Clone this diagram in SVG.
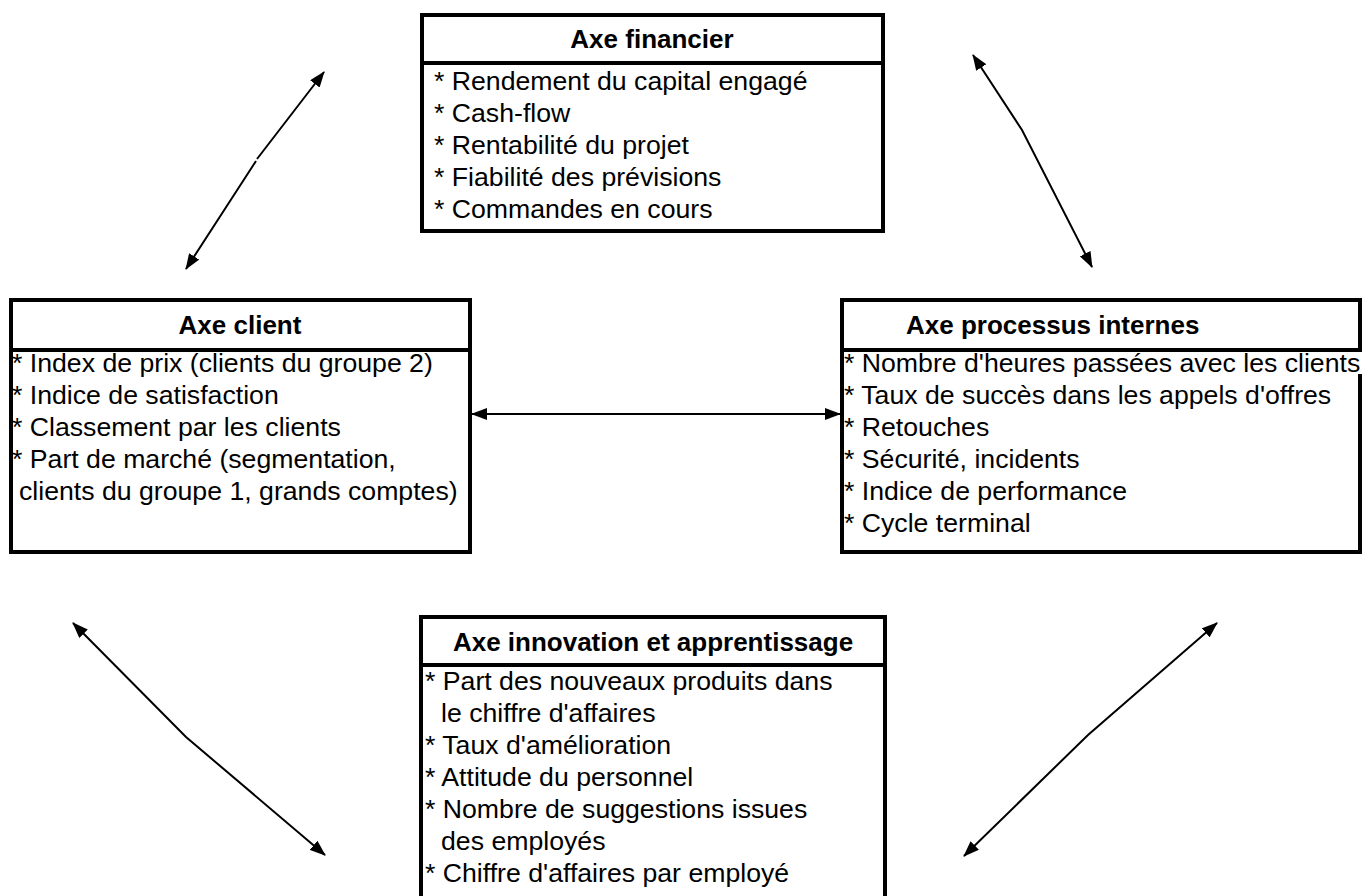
<svg xmlns="http://www.w3.org/2000/svg" width="1366" height="896" viewBox="0 0 1366 896">
<defs>
<style>
.box{fill:none;stroke:#000;stroke-width:4}
.hd{font-family:"Liberation Sans",Arial,sans-serif;font-size:26px;font-weight:bold;fill:#000}
.tx{font-family:"Liberation Sans",Arial,sans-serif;font-size:26.67px;fill:#000}
.cn{fill:none;stroke:#000;stroke-width:2;marker-start:url(#ah);marker-end:url(#ah)}
</style>
<marker id="ah" viewBox="0 0 16 12" refX="15" refY="6" markerWidth="16" markerHeight="12" markerUnits="userSpaceOnUse" orient="auto-start-reverse">
<path d="M0,0 L16,6 L0,12 Z" fill="#000"/>
</marker>
</defs>
<rect width="1366" height="896" fill="#fff"/>

<g id="financier">
<rect class="box" x="422" y="15" width="461" height="216"/>
<line class="box" x1="422" y1="63" x2="883" y2="63"/>
<text class="hd" x="652" y="48" text-anchor="middle">Axe financier</text>
<text class="tx" x="434" y="90">* Rendement du capital engagé</text>
<text class="tx" x="434" y="122">* Cash-flow</text>
<text class="tx" x="434" y="154">* Rentabilité du projet</text>
<text class="tx" x="434" y="186">* Fiabilité des prévisions</text>
<text class="tx" x="434" y="218">* Commandes en cours</text>
</g>

<g id="client">
<rect class="box" x="11" y="300" width="459" height="252"/>
<line class="box" x1="11" y1="350" x2="470" y2="350"/>
<text class="hd" x="240" y="334" text-anchor="middle">Axe client</text>
<text class="tx" x="12" y="372">* Index de prix (clients du groupe 2)</text>
<text class="tx" x="12" y="404">* Indice de satisfaction</text>
<text class="tx" x="12" y="436">* Classement par les clients</text>
<text class="tx" x="12" y="468">* Part de marché (segmentation,</text>
<text class="tx" x="19" y="500">clients du groupe 1, grands comptes)</text>
</g>

<g id="processus">
<rect class="box" x="842" y="300" width="518" height="50"/>
<path class="box" d="M842,350 V552 H1360 V374"/>
<text class="hd" x="906" y="334">Axe processus internes</text>
<text class="tx" x="844" y="372">* Nombre d'heures passées avec les clients</text>
<text class="tx" x="844" y="404">* Taux de succès dans les appels d'offres</text>
<text class="tx" x="844" y="436">* Retouches</text>
<text class="tx" x="844" y="468">* Sécurité, incidents</text>
<text class="tx" x="844" y="500">* Indice de performance</text>
<text class="tx" x="844" y="532">* Cycle terminal</text>
</g>

<g id="innovation">
<path class="box" d="M421,900 V617 H885 V900"/>
<line class="box" x1="421" y1="665" x2="885" y2="665"/>
<text class="hd" x="653" y="651" text-anchor="middle">Axe innovation et apprentissage</text>
<text class="tx" x="425" y="690">* Part des nouveaux produits dans</text>
<text class="tx" x="441" y="722">le chiffre d'affaires</text>
<text class="tx" x="425" y="754">* Taux d'amélioration</text>
<text class="tx" x="425" y="786">* Attitude du personnel</text>
<text class="tx" x="425" y="818">* Nombre de suggestions issues</text>
<text class="tx" x="441" y="850">des employés</text>
<text class="tx" x="425" y="882">* Chiffre d'affaires par employé</text>
</g>

<g id="connectors">
<path class="cn" d="M186,269 L256,161 M257,159 L324,72"/>
<path class="cn" d="M973,55 L1022,130 L1092,267"/>
<path class="cn" d="M472,414 L840,414"/>
<path class="cn" d="M73,623 L186,737 L325,855"/>
<path class="cn" d="M1217,623 L1088,735 L964,856"/>
</g>
</svg>
